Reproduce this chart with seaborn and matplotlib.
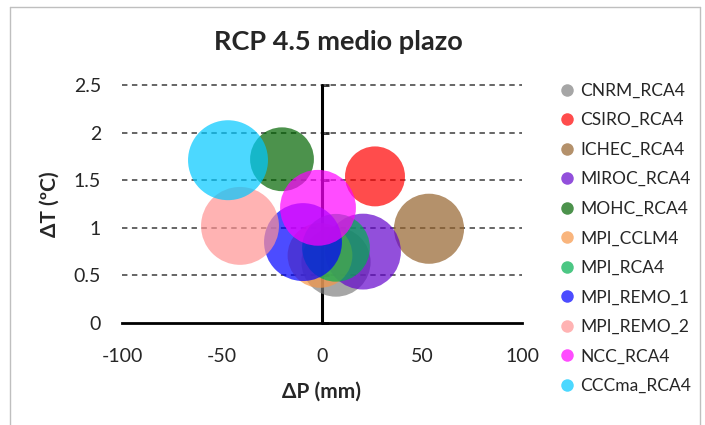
import numpy as np
import pandas as pd
import seaborn as sns
import matplotlib.pyplot as plt
from matplotlib.lines import Line2D

models = ['CNRM_RCA4', 'CSIRO_RCA4', 'ICHEC_RCA4', 'MIROC_RCA4', 'MOHC_RCA4',
          'MPI_CCLM4', 'MPI_RCA4', 'MPI_REMO_1', 'MPI_REMO_2', 'NCC_RCA4', 'CCCma_RCA4']
dP = [7, 26.5, 53.5, 20.5, -20, -1, 7, -9.5, -41, -2, -47]
dT = [0.64, 1.54, 0.99, 0.75, 1.72, 0.71, 0.79, 0.85, 1.02, 1.21, 1.71]
bubble = [12.0, 9.0, 12.3, 14.4, 10.2, 10.5, 11.5, 15.2, 15.2, 14.4, 16.0]
colors = ['#808080', '#ff0000', '#94622d', '#6405cd', '#006400', '#f79646',
          '#00b050', '#0000ff', '#ff9393', '#ff00ff', '#00c8ff']

df = pd.DataFrame({'model': models, 'dP': dP, 'dT': dT, 'bubble': bubble})

sns.set_style('white')
plt.rcParams['font.family'] = ['Lato', 'DejaVu Sans']
plt.rcParams['axes.unicode_minus'] = False

fig = plt.figure(figsize=(7.05, 4.25), dpi=100)
ax = fig.add_axes([122 / 705, 1 - 323 / 425, 400 / 705, 238 / 425])

# bubbles, area proportional to bubble value
for i, row in df.iterrows():
    sns.scatterplot(x=[row.dP], y=[row.dT], ax=ax, s=207 * row.bubble,
                    color=colors[i], alpha=0.7, edgecolor='none', zorder=3 + i)

ax.set_xlim(-100, 100)
ax.set_ylim(0, 2.5)
ax.set_xticks([-100, -50, 0, 50, 100])
ax.set_yticks([0, 0.5, 1, 1.5, 2, 2.5])
ax.set_yticklabels(['0', '0.5', '1', '1.5', '2', '2.5'])
for yv in [0.5, 1, 1.5, 2, 2.5]:
    ax.axhline(yv, color='#595959', lw=1.3, ls=(0, (3, 2.5)), zorder=1, clip_on=False)

for s in ['top', 'right', 'left']:
    ax.spines[s].set_visible(False)
ax.spines['bottom'].set_linewidth(2)
ax.spines['bottom'].set_color('black')
ax.tick_params(axis='x', length=6, width=2, color='black', direction='out',
               labelsize=14, pad=12)
ax.tick_params(axis='y', length=0, labelsize=14, pad=15)

# vertical axis crossing at 0
ax.axvline(0, color='black', lw=2.2, zorder=2, clip_on=False)
sec = ax.secondary_yaxis(0.5)
sec.spines['left'].set_visible(False)
sec.set_yticks([0, 0.5, 1, 1.5, 2, 2.5])
sec.set_yticklabels([])
sec.tick_params(length=5, width=2, direction='out')

ax.set_xlabel('ΔP (mm)', fontsize=15, fontweight='bold', labelpad=12)
ax.set_ylabel('ΔT (ºC)', fontsize=15, fontweight='bold', labelpad=10)

fig.text(338 / 705, 1 - 42 / 425, 'RCP 4.5 medio plazo', fontsize=19.5,
         fontweight='bold', ha='center', va='center')

handles = [Line2D([], [], marker='o', ls='', color=c, alpha=0.7, markersize=9,
                  markeredgewidth=0) for c in colors]
fig.legend(handles, models, loc='upper left', bbox_to_anchor=(541 / 705, 1 - 67 / 425),
           frameon=False, fontsize=12.5, labelspacing=0.78, handletextpad=0.15,
           handlelength=1.2)

# chart area border
fig.add_artist(Line2D([10 / 705, 10 / 705], [0, 1 - 7 / 425], transform=fig.transFigure,
                      color='#bfbfbf', lw=1))
fig.add_artist(Line2D([10 / 705, 700 / 705], [1 - 7 / 425, 1 - 7 / 425],
                      transform=fig.transFigure, color='#bfbfbf', lw=1))
fig.add_artist(Line2D([700 / 705, 700 / 705], [0, 1 - 7 / 425], transform=fig.transFigure,
                      color='#bfbfbf', lw=1))

fig.savefig('out.png', dpi=100)
